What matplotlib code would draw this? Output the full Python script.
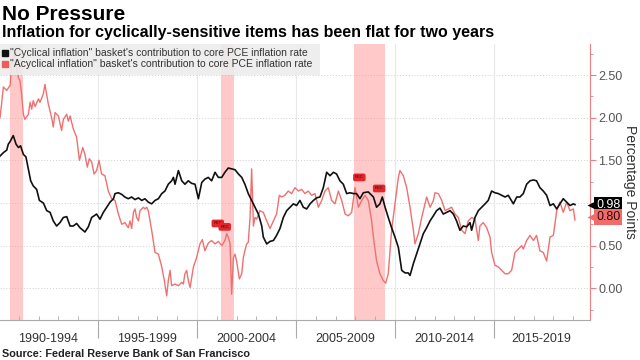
import matplotlib
matplotlib.use("Agg")
import matplotlib.pyplot as plt
import matplotlib.transforms as mtransforms
from matplotlib.patches import Rectangle

plt.rcParams["font.family"] = ["Liberation Sans", "DejaVu Sans"]

# ---------------------------------------------
# Data
# ---------------------------------------------

cyc_dates = [
    1990.05, 1990.22, 1990.39, 1990.47, 1990.56, 1990.72, 1990.86, 1990.98, 1991.09, 1991.23,
    1991.36, 1991.48, 1991.60, 1991.73, 1991.90, 1992.04, 1992.24, 1992.41, 1992.58, 1992.74,
    1992.91, 1993.08, 1993.25, 1993.42, 1993.59, 1993.75, 1993.92, 1994.09, 1994.34, 1994.51,
    1994.68, 1994.93, 1995.10, 1995.27, 1995.44, 1995.61, 1995.78,
    1995.86, 1996.03, 1996.20, 1996.36, 1996.53, 1996.70, 1996.87, 1997.04, 1997.21, 1997.37,
    1997.54, 1997.71, 1997.88, 1998.05, 1998.22, 1998.38, 1998.55, 1998.72, 1998.81, 1998.89,
    1999.06, 1999.23, 1999.39, 1999.56, 1999.73, 1999.90, 2000.07, 2000.24, 2000.40, 2000.57,
    2000.74, 2000.91, 2001.08, 2001.25, 2001.41, 2001.58, 2001.75,
    2001.92, 2002.09, 2002.26, 2002.42, 2002.59, 2002.76, 2002.93, 2003.10, 2003.27, 2003.35,
    2003.52, 2003.69, 2003.86, 2004.02, 2004.19, 2004.36, 2004.53, 2004.70, 2004.87, 2005.03,
    2005.20, 2005.37, 2005.54, 2005.71, 2005.88, 2006.04, 2006.21, 2006.38, 2006.55, 2006.72,
    2006.89, 2007.05, 2007.22, 2007.39, 2007.56, 2007.73, 2007.90,
    2008.06, 2008.23, 2008.40, 2008.65, 2008.91, 2009.07, 2009.24, 2009.36, 2009.50, 2009.66,
    2009.83, 2010.00, 2010.17, 2010.34, 2010.51, 2010.67, 2010.76, 2010.93, 2011.09, 2011.26,
    2011.43, 2011.60, 2011.77, 2011.94, 2012.10, 2012.27, 2012.44, 2012.61, 2012.78, 2012.95,
    2013.11, 2013.28, 2013.45, 2013.62,
    2013.79, 2013.87, 2014.04, 2014.21, 2014.38, 2014.55, 2014.71, 2014.88, 2015.05, 2015.22,
    2015.39, 2015.56, 2015.72, 2015.98, 2016.15, 2016.31, 2016.48, 2016.65, 2016.82, 2016.99,
    2017.15, 2017.32, 2017.49, 2017.66, 2017.83, 2018.00, 2018.17, 2018.33, 2018.50, 2018.67,
    2018.84, 2019.01, 2019.09,
]
cyc_vals = [
    1.55, 1.59, 1.62, 1.69, 1.72, 1.79, 1.69, 1.65, 1.67, 1.57,
    1.54, 1.40, 1.26, 1.20, 1.16, 1.03, 1.00, 0.91, 0.89, 0.79,
    0.73, 0.77, 0.83, 0.84, 0.73, 0.73, 0.76, 0.71, 0.66, 0.72,
    0.83, 0.87, 0.81, 0.89, 0.95, 1.01, 1.05,
    1.11, 1.12, 1.10, 1.07, 1.05, 1.07, 1.04, 1.06, 1.03, 1.05,
    1.01, 0.99, 1.03, 1.05, 1.11, 1.14, 1.22, 1.26, 1.30, 1.22,
    1.38, 1.26, 1.22, 1.26, 1.23, 1.22, 1.05, 1.24, 1.28, 1.30,
    1.26, 1.36, 1.30, 1.30, 1.36, 1.41, 1.40,
    1.39, 1.34, 1.30, 1.22, 1.11, 1.03, 0.95, 0.87, 0.73, 0.60,
    0.52, 0.55, 0.56, 0.62, 0.70, 0.83, 0.91, 0.95, 0.99, 0.97,
    1.03, 0.95, 0.93, 0.99, 1.03, 1.06, 1.07, 1.18, 1.36, 1.32,
    1.36, 1.34, 1.26, 1.22, 1.11, 1.12, 1.11,
    1.11, 1.05, 1.12, 1.13, 1.07, 0.95, 0.99, 1.07, 0.95, 0.83,
    0.71, 0.60, 0.48, 0.21, 0.18, 0.18, 0.15, 0.29, 0.40, 0.52,
    0.64, 0.71, 0.79, 0.85, 0.91, 0.94, 0.87, 0.89, 0.91, 0.87,
    0.79, 0.68, 0.73, 0.72,
    0.77, 0.68, 0.83, 0.91, 0.95, 0.99, 1.03, 1.14, 1.12, 1.11,
    1.09, 1.07, 1.09, 0.99, 1.07, 1.07, 1.11, 1.22, 1.26, 1.27,
    1.26, 1.18, 1.14, 1.09, 0.97, 0.99, 0.93, 0.99, 1.05, 1.01,
    0.97, 0.99, 0.98,
]

acyc_dates = [
    1990.05, 1990.13, 1990.22, 1990.39, 1990.56, 1990.64, 1990.76, 1990.89, 1990.98, 1991.06,
    1991.14, 1991.23, 1991.31, 1991.48, 1991.57, 1991.65, 1991.73, 1991.82, 1991.99, 1992.07,
    1992.24, 1992.32, 1992.49, 1992.66, 1992.74, 1992.83, 1993.00, 1993.16, 1993.25, 1993.42,
    1993.50, 1993.59, 1993.75, 1993.92, 1994.06, 1994.23, 1994.34, 1994.46, 1994.56, 1994.68,
    1994.80, 1994.93, 1995.05, 1995.18, 1995.35, 1995.52, 1995.69, 1995.86,
    1996.03, 1996.20, 1996.36, 1996.53, 1996.62, 1996.70, 1996.79, 1996.87, 1996.95, 1997.04,
    1997.12, 1997.21, 1997.29, 1997.37, 1997.46, 1997.54, 1997.71, 1997.88, 1998.05, 1998.22,
    1998.35, 1998.47, 1998.55, 1998.64, 1998.72, 1998.89, 1999.06, 1999.23, 1999.31, 1999.39,
    1999.48, 1999.56, 1999.65, 1999.82, 1999.98, 2000.15, 2000.27, 2000.40, 2000.57, 2000.74,
    2000.91, 2001.08, 2001.25, 2001.41, 2001.50, 2001.58, 2001.67, 2001.75, 2001.84, 2001.92,
    2002.00,
    2002.14, 2002.26, 2002.34, 2002.42, 2002.51, 2002.59, 2002.68, 2002.76, 2002.85, 2002.93,
    2003.01, 2003.18, 2003.35, 2003.52, 2003.69, 2003.86, 2004.02, 2004.16, 2004.28, 2004.44,
    2004.61, 2004.78, 2004.95, 2005.12, 2005.29, 2005.45, 2005.62, 2005.79, 2005.96, 2006.13,
    2006.30, 2006.46, 2006.63, 2006.80, 2006.97, 2007.14, 2007.31, 2007.48, 2007.64, 2007.81,
    2007.98,
    2008.15, 2008.32, 2008.49, 2008.65, 2008.82, 2008.91, 2009.07, 2009.24, 2009.41, 2009.53,
    2009.66, 2009.83, 2010.00, 2010.17, 2010.25, 2010.42, 2010.59, 2010.76, 2010.93, 2011.01,
    2011.18, 2011.35, 2011.60, 2011.77, 2011.94, 2012.02, 2012.19, 2012.36, 2012.53, 2012.69,
    2012.86, 2013.03, 2013.20, 2013.37, 2013.54, 2013.70,
    2013.87, 2014.04, 2014.21, 2014.29, 2014.46, 2014.63, 2014.80, 2014.88, 2015.05, 2015.22,
    2015.39, 2015.56, 2015.72, 2015.89, 2015.98, 2016.06, 2016.23, 2016.40, 2016.48, 2016.65,
    2016.82, 2016.99, 2017.15, 2017.32, 2017.49, 2017.66, 2017.83, 2018.00, 2018.17, 2018.33,
    2018.50, 2018.67, 2018.84, 2019.01, 2019.09,
]
acyc_vals = [
    2.00, 2.16, 2.36, 2.32, 2.38, 2.63, 2.75, 2.59, 2.47, 2.43,
    2.28, 2.04, 1.98, 2.04, 2.18, 2.10, 2.20, 2.13, 2.22, 2.18,
    2.28, 2.39, 2.16, 2.00, 1.89, 2.06, 2.02, 1.85, 1.98, 2.04,
    1.96, 2.02, 1.87, 1.77, 1.50, 1.65, 1.57, 1.42, 1.52, 1.48,
    1.34, 1.38, 1.50, 1.34, 1.32, 1.14, 1.05, 1.03,
    0.87, 0.75, 0.77, 0.71, 0.79, 0.70, 0.89, 0.93, 0.83, 0.79,
    0.91, 0.93, 0.95, 0.93, 0.95, 0.91, 0.68, 0.42, 0.40, 0.25,
    0.09, -0.09, 0.09, 0.21, 0.03, 0.05, 0.03, 0.07, 0.05, 0.17,
    0.21, 0.09, 0.01, 0.25, 0.36, 0.52, 0.57, 0.44, 0.53, 0.56,
    0.52, 0.55, 0.50, 0.56, 0.64, 0.60, 0.52, -0.07, 0.36, 0.40,
    0.32,
    0.11, 0.17, 0.36, 0.44, 0.52, 0.54, 0.83, 1.40, 0.73, 0.83,
    0.81, 0.91, 0.89, 0.79, 0.70, 0.79, 0.87, 1.09, 1.07, 1.09,
    1.14, 1.11, 1.18, 1.14, 1.16, 1.11, 1.14, 1.09, 1.11, 0.95,
    1.03, 1.14, 1.18, 1.03, 0.99, 1.14, 1.03, 0.87, 0.85, 0.89,
    1.18,
    0.95, 1.03, 1.09, 1.03, 0.79, 0.60, 0.32, 0.17, 0.09, 0.06,
    0.17, 0.68, 0.99, 1.30, 1.38, 1.32, 1.18, 0.95, 0.68, 0.52,
    0.64, 0.83, 1.07, 0.95, 1.03, 1.12, 1.11, 1.03, 0.91, 0.93,
    0.95, 0.87, 0.83, 0.68, 0.64, 0.79,
    0.83, 0.81, 0.56, 0.73, 0.77, 0.71, 0.60, 0.42, 0.27, 0.25,
    0.21, 0.17, 0.17, 0.21, 0.32, 0.42, 0.46, 0.50, 0.46, 0.56,
    0.62, 0.56, 0.62, 0.44, 0.42, 0.32, 0.60, 0.62, 0.91, 1.01,
    0.89, 1.01, 0.91, 0.93, 0.80,
]

recessions = [(1990.55, 1991.2), (2001.2, 2001.87), (2007.92, 2009.5)]
rec_tag_dates = [2001.05, 2001.4, 2008.2, 2009.2]
rec_tag_vals = [0.76, 0.72, 1.30, 1.17]

period_labels = ["1990-1994", "1995-1999", "2000-2004", "2005-2009", "2010-2014", "2015-2019"]
period_centers = [1992.5, 1997.5, 2002.5, 2007.5, 2012.5, 2017.4]
separators = [1995, 2000, 2005, 2010, 2015]
years = list(range(1991, 2020))
y_ticks = [0.0, 0.5, 1.0, 1.5, 2.0, 2.5]
# 1.00 is hidden behind the last-value tag in the original
y_tick_labels = ["0.00", "0.50", "", "1.50", "2.00", "2.50"]

legend_labels = [
    "\"Cyclical inflation\" basket's contribution to core PCE inflation rate",
    "\"Acyclical inflation\" basket's contribution to core PCE inflation rate",
]

BLACK = "#111111"
RED = "#f07070"
AXIS_RED = "#f08080"

# ---------------------------------------------
# Figure
# ---------------------------------------------

fig = plt.figure(figsize=(6.4, 3.6), dpi=100)
ax = fig.add_axes([0.0, 40 / 360, 590 / 640, 276 / 360])

for start, end in recessions:
    ax.axvspan(start, end, color="#ff9595", alpha=0.5, lw=0, zorder=1)

for y in y_ticks:
    ax.axhline(y, color="#cfcfcf", lw=0.7, ls=(0, (1, 2)), zorder=0)
for x in separators:
    ax.axvline(x, color="#e8e8e8", lw=0.8, zorder=0)

ax.plot(acyc_dates, acyc_vals, color=RED, lw=1.0, zorder=3)
ax.plot(cyc_dates, cyc_vals, color=BLACK, lw=1.2, zorder=4)

for d, v in zip(rec_tag_dates, rec_tag_vals):
    ax.text(d, v, "REC", fontsize=3, color="#4a0000", ha="center", va="center", zorder=5,
            bbox=dict(boxstyle="round,pad=0.45", fc="#e3262b", ec="none"))

ax.set_xlim(1990.05, 2019.85)
ax.set_ylim(-0.372, 2.864)

# right axis
ax.yaxis.tick_right()
ax.set_yticks(y_ticks)
ax.set_yticklabels(y_tick_labels)
ax.set_yticks([-0.25, 0.25, 0.75, 1.25, 1.75, 2.25, 2.75], minor=True)
ax.tick_params(axis="y", which="major", length=4, color=AXIS_RED, labelsize=9, labelcolor="#555555", pad=2)
ax.tick_params(axis="y", which="minor", length=2, color=AXIS_RED)
ax.text(630 / 590, 0.5, "Percentage Points", transform=ax.transAxes, rotation=270,
        ha="center", va="center", fontsize=10, color="#333333")

# bottom axis
ax.set_xticks(separators)
ax.set_xticklabels([])
ax.set_xticks(years, minor=True)
ax.tick_params(axis="x", which="major", length=13, direction="out", color="#aaaaaa")
ax.tick_params(axis="x", which="minor", length=3, direction="in", color="#aaaaaa")
trans = mtransforms.blended_transform_factory(ax.transData, ax.transAxes)
for c, lab in zip(period_centers, period_labels):
    ax.text(c, -0.068, lab, transform=trans, ha="center", va="center", fontsize=9, color="#333333")

for side in ["top", "left"]:
    ax.spines[side].set_visible(False)
ax.spines["right"].set_color(AXIS_RED)
ax.spines["bottom"].set_color("#aaaaaa")

# legend box
ax.add_patch(Rectangle((0, 1 - 31 / 276), 320 / 590, 31 / 276, transform=ax.transAxes,
                       fc="#ededed", ec="none", alpha=0.9, zorder=6))
for i, (lab, col) in enumerate(zip(legend_labels, [BLACK, "#f05a5a"])):
    yy = 1 - (9 + 11 * i) / 276
    ax.plot([5 / 590], [yy], marker="s", ms=5, color=col, transform=ax.transAxes, zorder=7, clip_on=False)
    ax.text(10 / 590, yy, lab, transform=ax.transAxes, fontsize=7.5, color="#333333",
            va="center", ha="left", zorder=7)

# last value tags: box + small pointer at the axis
tags = [("0.98", cyc_vals[-1], "black", "white"), ("0.80", 0.84, "#f26b6b", "#2b0808")]
blend = mtransforms.blended_transform_factory(ax.transAxes, ax.transData)
for txt, yv, fc, tc in tags:
    ax.annotate(txt, xy=(1.0, yv), xycoords=("axes fraction", "data"),
                xytext=(4.5, 0), textcoords="offset points", fontsize=9, color=tc,
                va="center", ha="left", zorder=8,
                bbox=dict(boxstyle="square,pad=0.15", fc=fc, ec="none"), annotation_clip=False)
    ax.plot([1.0 + 1.5 / 590], [yv], marker="<", ms=7, color=fc, mec="none",
            transform=blend, clip_on=False, zorder=8)

# titles
fig.text(0.003, 1 - 14 / 360, "No Pressure", fontsize=15, fontweight="bold", va="center", ha="left")
fig.text(0.003, 1 - 32 / 360, "Inflation for cyclically-sensitive items has been flat for two years",
         fontsize=11.5, fontweight="bold", va="center", ha="left")
fig.text(0.003, 1 - 354 / 360, "Source: Federal Reserve Bank of San Francisco",
         fontsize=7.8, fontweight="bold", va="center", ha="left", color="#222222")

fig.savefig("out.png", dpi=100)
